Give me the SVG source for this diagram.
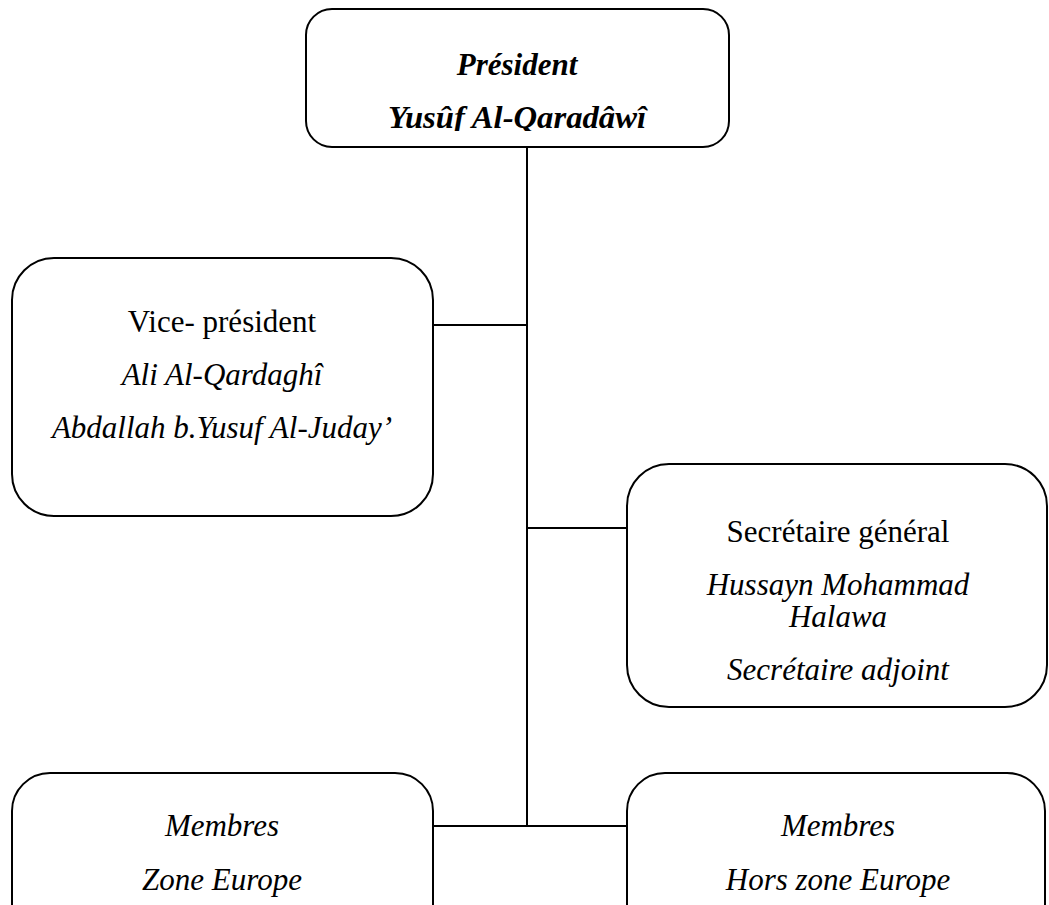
<svg xmlns="http://www.w3.org/2000/svg" width="1049" height="905" viewBox="0 0 1049 905">
<style>
.box{fill:#fff;stroke:#000;stroke-width:2}
.ln{stroke:#000;stroke-width:2;fill:none}
text{font-family:"Liberation Serif","Times New Roman",serif;font-size:31px;fill:#000;text-anchor:middle}
.i{font-style:italic}
.b{font-weight:bold}
</style>
<defs>
<clipPath id="topclip"><rect x="300" y="0" width="440" height="131"/></clipPath>
</defs>
<rect width="1049" height="905" fill="#fff"/>
<g id="connectors">
<line class="ln" x1="527" y1="147" x2="527" y2="826"/>
<line class="ln" x1="433" y1="325" x2="527" y2="325"/>
<line class="ln" x1="527" y1="528" x2="627" y2="528"/>
<line class="ln" x1="433" y1="826" x2="627" y2="826"/>
</g>
<g id="president">
<rect class="box" x="306" y="9" width="423" height="138" rx="26"/>
<text class="i b" x="517" y="75">Président</text>
<text class="i b" x="517" y="128" clip-path="url(#topclip)" textLength="258" lengthAdjust="spacingAndGlyphs">Yusûf Al-Qaradâwî</text>
</g>
<g id="vice-president">
<rect class="box" x="12" y="258" width="421" height="258" rx="42"/>
<text x="222" y="332">Vice- président</text>
<text class="i" x="222" y="385">Ali Al-Qardaghî</text>
<text class="i" x="222" y="438">Abdallah b.Yusuf Al-Juday’</text>
</g>
<g id="secretaire">
<rect class="box" x="627" y="464" width="420" height="243" rx="42"/>
<text x="838" y="542">Secrétaire général</text>
<text class="i" x="838" y="595">Hussayn Mohammad</text>
<text class="i" x="838" y="627">Halawa</text>
<text class="i" x="838" y="680">Secrétaire adjoint</text>
</g>
<g id="membres-zone">
<rect class="box" x="12" y="773" width="421" height="180" rx="38"/>
<text class="i" x="222" y="836">Membres</text>
<text class="i" x="222" y="890">Zone Europe</text>
</g>
<g id="membres-hors">
<rect class="box" x="627" y="773" width="418" height="180" rx="38"/>
<text class="i" x="838" y="836">Membres</text>
<text class="i" x="838" y="890">Hors zone Europe</text>
</g>
</svg>
